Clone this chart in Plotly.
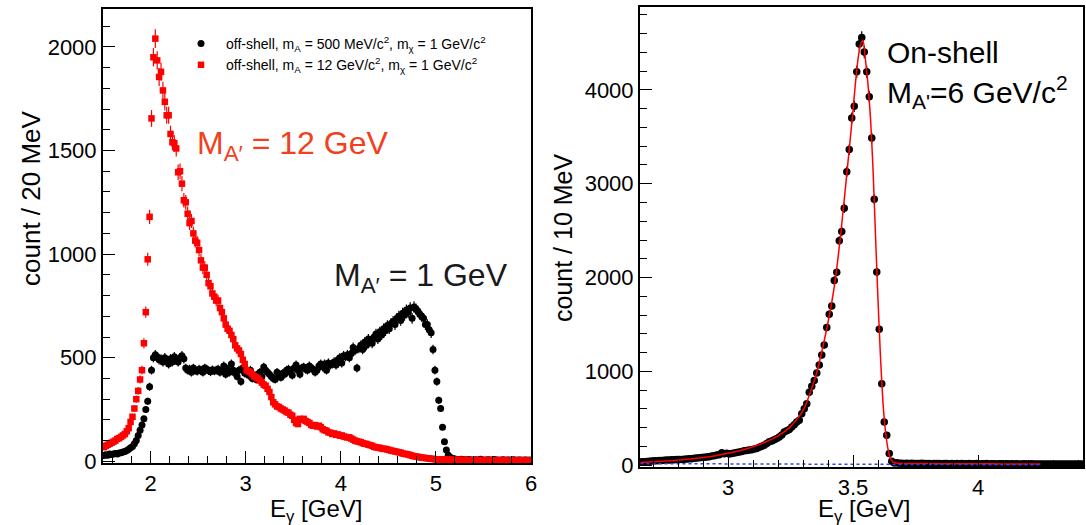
import numpy as np
import plotly.graph_objects as go

# ---------------- Left panel data (20 MeV bins, 1.5 - 6.0 GeV) ----------------
left_bin_start = 1.5
left_bin_width = 0.02

black_500MeV = [
    28, 32, 30, 35, 33, 36, 38, 35, 40, 42,
    45, 48, 52, 58, 65, 72, 85, 100, 125, 150,
    175, 205, 250, 290, 360, 440, 500, 515, 505, 490,
    495, 480, 500, 485, 470, 495, 480, 505, 490, 480,
    500, 510, 495, 450, 440, 445, 430, 450, 440, 435,
    445, 440, 430, 450, 445, 438, 432, 442, 436, 440,
    445, 430, 440, 460, 420, 445, 430, 470, 440, 425,
    410, 440, 385, 450, 425, 430, 415, 440, 400, 410,
    395, 420, 430, 410, 455, 440, 430, 420, 410, 400,
    395, 430, 415, 405, 425, 420, 440, 445, 430, 415,
    450, 465, 440, 420, 450, 455, 445, 440, 460, 450,
    445, 430, 440, 460, 470, 455, 470, 440, 475, 465,
    470, 480, 465, 490, 500, 475, 510, 505, 515, 500,
    520, 550, 535, 450, 545, 560, 540, 575, 560, 590,
    580, 570, 600, 615, 590, 625, 610, 640, 630, 655,
    640, 665, 675, 660, 690, 700, 680, 715, 705, 730,
    720, 740, 690, 745, 735, 725, 710, 700, 690, 660,
    660, 635, 620, 540, 440, 385, 295, 255, 165, 95,
    55, 30, 20, 15, 12, 10, 9, 8, 10, 7,
    8, 6, 9, 7, 5, 8, 6, 7, 10, 6, 5, 7, 8, 6, 5, 9, 6, 7, 5, 6,
    8, 5, 7, 6, 5, 8, 6, 5, 7, 6, 5, 6, 7, 5, 6,
]

red_12GeV = [
    68, 75, 80, 85, 90, 95, 100, 108, 112, 118,
    125, 132, 145, 160, 190, 215, 255, 300, 340, 395,
    440, 570, 720, 975, 1180, 1655, 1950, 2040, 1935, 1855,
    1880, 1790, 1735, 1670, 1670, 1580, 1540, 1535, 1510, 1395,
    1400, 1340, 1260, 1250, 1195, 1150, 1160, 1100, 1065, 1055,
    1020, 970, 935, 935, 900, 860, 845, 810, 795, 776,
    776, 740, 720, 690, 660, 640, 630, 610, 590, 560,
    545, 535, 518, 490, 470, 440, 435, 430, 420, 410,
    405, 400, 390, 380, 370, 365, 350, 335, 310, 285,
    275, 265, 262, 255, 250, 245, 238, 235, 225, 220,
    200, 185, 180, 205, 200, 205, 195, 190, 185, 175,
    172, 175, 168, 172, 165, 155, 150, 148, 140, 138,
    132, 135, 128, 130, 124, 125, 120, 118, 115, 116,
    110, 105, 100, 97, 95, 92, 88, 85, 84, 80,
    78, 75, 70, 68, 66, 65, 62, 60, 60, 57,
    55, 52, 50, 48, 46, 44, 42, 38, 36, 35,
    33, 30, 27, 25, 23, 22, 20, 18, 17, 16,
    15, 14, 12, 12, 10, 10, 9, 10, 8, 9,
    8, 9, 7, 8, 7, 6, 8, 7, 6, 7,
    6, 7, 5, 6, 7, 5, 6, 5, 6, 7, 5, 4, 6, 5, 5, 6, 4, 5, 6, 5,
    4, 5, 6, 4, 5, 5, 4, 6, 5, 4, 5, 4, 5, 4, 5,
]

# ---------------- Right panel data (10 MeV bins, from 2.65 GeV) ----------------
right_bin_start = 2.65
right_bin_width = 0.01

onshell_counts = [
    35, 36, 38, 40, 42, 45, 46, 47, 48, 50,
    53, 54, 55, 57, 58, 60, 60, 62, 64, 66,
    68, 71, 74, 78, 81, 82, 85, 88, 95, 100,
    106, 110, 131, 120, 125, 117, 122, 128, 134, 140,
    145, 152, 155, 159, 162, 170, 177, 190, 200, 212,
    230, 247, 255, 270, 283, 300, 320, 353, 365, 380,
    406, 430, 459, 477, 548, 600, 654, 777, 840, 901,
    982, 1067, 1173, 1279, 1466, 1608, 1696, 1968, 2057, 2392,
    2491, 2739, 3127, 3364, 3700, 3827, 4194, 4490,
    4560, 4406, 4194, 3929, 3488, 2834, 2060, 1449, 866, 459,
    318, 124, 40, 22,
    25, 20, 18, 17, 19, 16, 18, 15, 17, 16,
    18, 15, 16, 17, 14, 16, 15, 17, 14, 15,
    16, 14, 15, 13, 16, 14, 15, 13, 14, 15,
    13, 14, 15, 12, 14, 13, 15, 12, 13, 14,
    12, 13, 14, 12, 13, 11, 13, 12, 14, 11,
    12, 13, 11, 12, 13, 11, 12, 10, 12, 11,
    12, 10, 11, 12, 10, 11, 10, 12, 11, 10,
    11, 10, 12, 10, 11, 10,
]

fit_x = [2.65, 2.70, 2.75, 2.80, 2.85, 2.90, 2.95, 3.00, 3.05, 3.10,
         3.15, 3.20, 3.25, 3.30, 3.35, 3.40, 3.425, 3.45, 3.475, 3.50,
         3.51, 3.52, 3.53, 3.54, 3.55, 3.56, 3.57, 3.58, 3.59, 3.60,
         3.61, 3.62, 3.63, 3.64, 3.65, 3.66, 3.68, 3.70, 3.80, 3.90,
         4.00, 4.10, 4.25]
fit_y = [28, 34, 42, 52, 64, 80, 100, 125, 155, 195,
         245, 310, 410, 580, 940, 1520, 1900, 2440, 3100, 3780,
         4080, 4330, 4480, 4530, 4320, 4060, 3700, 3160, 2450, 1760,
         1150, 660, 360, 170, 70, 30, 18, 16, 15, 14,
         13, 12, 11]

bkg_x = [2.65, 4.25]
bkg_y = [15, 2]

legend_labels = [
    "off-shell, m<sub>A</sub> = 500 MeV/c<sup>2</sup>, m<sub>χ</sub> = 1 GeV/c<sup>2</sup>",
    "off-shell, m<sub>A</sub> = 12 GeV/c<sup>2</sup>, m<sub>χ</sub> = 1 GeV/c<sup>2</sup>",
]

# ---------------- derived bin centres / errors ----------------
xl = left_bin_start + left_bin_width * (np.arange(len(black_500MeV)) + 0.5)
xr = right_bin_start + right_bin_width * (np.arange(len(onshell_counts)) + 0.5)
err_black = np.sqrt(np.array(black_500MeV, dtype=float))
err_red = np.sqrt(np.array(red_12GeV, dtype=float))
err_on = np.sqrt(np.array(onshell_counts, dtype=float))

FONT = "Liberation Sans, Arial, Helvetica, sans-serif"

fig = go.Figure()

fig.add_trace(go.Scatter(
    x=xl, y=black_500MeV, mode="markers", name=legend_labels[0],
    marker=dict(symbol="circle", size=7, color="black"),
    error_y=dict(type="data", array=err_black, thickness=1.2, width=0, color="black"),
    xaxis="x", yaxis="y",
))
fig.add_trace(go.Scatter(
    x=xl, y=red_12GeV, mode="markers", name=legend_labels[1],
    marker=dict(symbol="square", size=6.5, color="#ff0000"),
    error_y=dict(type="data", array=err_red, thickness=1.2, width=0, color="#ff0000"),
    xaxis="x", yaxis="y",
))

fig.add_trace(go.Scatter(
    x=xr, y=onshell_counts, mode="markers", showlegend=False,
    marker=dict(symbol="circle", size=7.5, color="black"),
    error_y=dict(type="data", array=err_on, thickness=1.2, width=0, color="black"),
    xaxis="x2", yaxis="y2",
))
fig.add_trace(go.Scatter(
    x=fit_x, y=fit_y, mode="lines", showlegend=False,
    line=dict(color="#ff0000", width=1.5, shape="spline", smoothing=0.6),
    xaxis="x2", yaxis="y2",
))
fig.add_trace(go.Scatter(
    x=bkg_x, y=bkg_y, mode="lines", showlegend=False,
    line=dict(color="#3040ff", width=1.5, dash="dot"),
    xaxis="x2", yaxis="y2",
))

W, H = 1086, 525


def px(x):
    return x / W


def py(y):
    return 1 - y / H


axis_common = dict(
    showline=True, linecolor="black", linewidth=2, mirror=True,
    ticks="inside", ticklen=12, tickwidth=1, tickcolor="black",
    showgrid=False, zeroline=False, automargin=False,
    tickfont=dict(family=FONT, size=22, color="black"),
)

fig.update_layout(
    width=W, height=H,
    margin=dict(l=0, r=0, t=0, b=0, autoexpand=False),
    paper_bgcolor="white", plot_bgcolor="white",
    font=dict(family=FONT, color="black"),
    xaxis=dict(domain=[px(103), px(531)], range=[1.5, 6.0], dtick=1, tick0=0,
               minor=dict(dtick=0.2, ticks="inside", ticklen=7, tickcolor="black"),
               anchor="y", **axis_common),
    yaxis=dict(domain=[py(463), py(9)], range=[-8, 2183], dtick=500, tick0=0,
               minor=dict(dtick=100, ticks="inside", ticklen=7, tickcolor="black"),
               anchor="x", **axis_common),
    xaxis2=dict(domain=[px(640), px(1083)], range=[2.648, 4.42], dtick=0.5, tick0=0,
                minor=dict(dtick=0.1, ticks="inside", ticklen=7, tickcolor="black"),
                anchor="y2", **axis_common),
    yaxis2=dict(domain=[py(467), py(7)], range=[-21, 4885], dtick=1000, tick0=0,
                minor=dict(dtick=200, ticks="inside", ticklen=7, tickcolor="black"),
                anchor="x2", **axis_common),
    legend=dict(x=px(176), y=py(28), xanchor="left", yanchor="top",
                bgcolor="rgba(0,0,0,0)", borderwidth=0, tracegroupgap=0,
                itemwidth=40,
                font=dict(family=FONT, size=14, color="black")),
    annotations=[
        dict(text="count / 20 MeV", x=px(31), y=py(198), xref="paper", yref="paper",
             textangle=-90, showarrow=False, font=dict(size=26, color="black"),
             xanchor="center", yanchor="middle"),
        dict(text="E<sub>γ</sub> [GeV]", x=px(316), y=py(510), xref="paper", yref="paper",
             showarrow=False, font=dict(size=24, color="black"),
             xanchor="center", yanchor="middle"),
        dict(text="count / 10 MeV", x=px(563), y=py(238), xref="paper", yref="paper",
             textangle=-90, showarrow=False, font=dict(size=25, color="black"),
             xanchor="center", yanchor="middle"),
        dict(text="E<sub>γ</sub> [GeV]", x=px(864), y=py(510), xref="paper", yref="paper",
             showarrow=False, font=dict(size=24, color="black"),
             xanchor="center", yanchor="middle"),
        dict(text="M<sub>A′</sub> = 12 GeV", x=px(195), y=py(145), xref="paper", yref="paper",
             showarrow=False, font=dict(size=32, color="#f2401e"),
             xanchor="left", yanchor="middle"),
        dict(text="M<sub>A′</sub> = 1 GeV", x=px(332), y=py(277), xref="paper", yref="paper",
             showarrow=False, font=dict(size=32, color="#1a1a1a"),
             xanchor="left", yanchor="middle"),
        dict(text="On-shell", x=px(885), y=py(52), xref="paper", yref="paper",
             showarrow=False, font=dict(size=30, color="black"),
             xanchor="left", yanchor="middle"),
        dict(text="M<sub>A'</sub>=6 GeV/c<sup>2</sup>", x=px(885), y=py(92), xref="paper", yref="paper",
             showarrow=False, font=dict(size=30, color="black"),
             xanchor="left", yanchor="middle"),
    ],
)

fig.write_html("out.html")
